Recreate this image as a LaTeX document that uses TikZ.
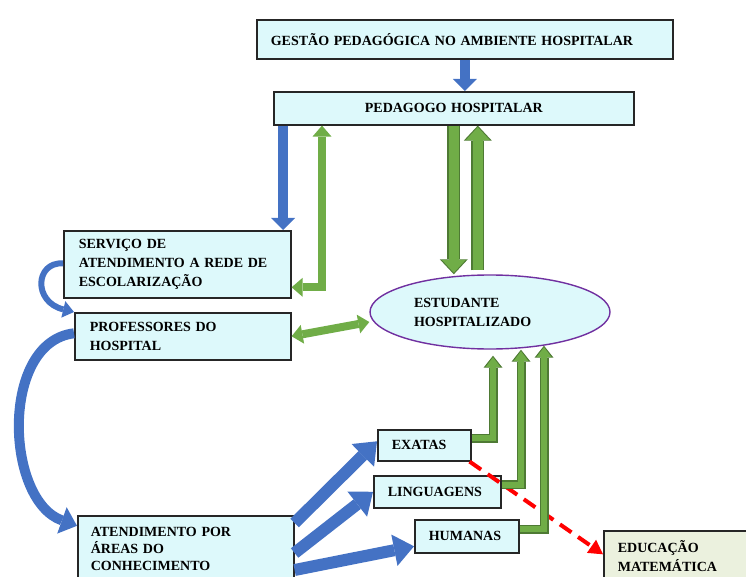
\documentclass[tikz,border=0pt]{standalone}
\usepackage{fontspec}
\setmainfont{Liberation Serif}
\usetikzlibrary{arrows.meta,shapes.geometric,calc}
\definecolor{boxcyan}{HTML}{DDF9FB}
\definecolor{edugreen}{HTML}{EBF1DE}
\definecolor{arrowblue}{HTML}{4472C4}
\definecolor{arrowgreen}{HTML}{70AD47}
\definecolor{greenline}{HTML}{4E7A34}
\definecolor{ellpurple}{HTML}{7030A0}
\tikzset{
  box/.style={draw=black!85,line width=1.6pt,fill=boxcyan,anchor=north west,align=left,
    inner xsep=14pt,inner ysep=2pt,font=\bfseries\fontsize{14}{19}\selectfont},
  bluearrow/.style={draw=arrowblue,line width=10pt,-{Triangle[width=24pt,length=12pt,line width=0pt]}},
  bluewide/.style={draw=arrowblue,line width=12pt,-{Triangle[width=32pt,length=20pt,line width=0pt]}},
  bluecurve/.style={draw=arrowblue,line width=6pt,-{Triangle[width=17pt,length=11pt,line width=0pt]}},
  bluebig/.style={draw=arrowblue,line width=10pt,-{Triangle[width=28pt,length=16pt,line width=0pt]}},
  greenarrow/.style={draw=arrowgreen,line width=8pt,
    {Triangle[width=19pt,length=11pt,line width=0pt]}-{Triangle[width=19pt,length=11pt,line width=0pt]}},
  greenfat/.style={draw=greenline,line width=13pt,-{Triangle[width=28pt,length=15pt,line width=0pt]},
    postaction={draw=arrowgreen,line width=10pt,-{Triangle[width=24pt,length=13pt,line width=0pt]},shorten >=1.5pt}},
  greenthin/.style={draw=greenline,line width=9pt,-{Triangle[width=19pt,length=12pt,line width=0pt]},
    postaction={draw=arrowgreen,line width=6pt,-{Triangle[width=15pt,length=10pt,line width=0pt]},shorten >=1.5pt}},
  reddash/.style={draw=red,line width=4pt,dash pattern=on 14pt off 8pt,-{Triangle[width=16pt,length=14pt,line width=0pt]}}
}
\begin{document}
\begin{tikzpicture}[x=1pt,y=-1pt]
\clip (0,0) rectangle (746,577);
% boxes
\node[box,minimum width=416pt,minimum height=39pt,text width=388pt] (gestao) at (256,19) {GESTÃO PEDAGÓGICA NO AMBIENTE HOSPITALAR};
\node[box,minimum width=360pt,minimum height=33pt,text width=332pt,align=center] (pedagogo) at (273,91) {PEDAGOGO HOSPITALAR};
\node[box,minimum width=227pt,minimum height=67pt,text width=197pt,inner xsep=15pt] (servico) at (63,230) {SERVIÇO DE\\ATENDIMENTO A REDE DE\\ESCOLARIZAÇÃO};
\node[box,minimum width=216pt,minimum height=47pt,text width=186pt,inner xsep=15pt] (professores) at (74,312) {PROFESSORES DO\\HOSPITAL};
\node[box,minimum width=216pt,minimum height=66pt,text width=190pt,inner xsep=13pt,font=\bfseries\fontsize{14}{17}\selectfont] (atendimento) at (77,515) {ATENDIMENTO POR\\ÁREAS DO\\CONHECIMENTO};
\node[box,minimum width=93pt,minimum height=31pt,text width=65pt] (exatas) at (377,429) {EXATAS};
\node[box,minimum width=127pt,minimum height=32pt,text width=99pt] (linguagens) at (373,475) {LINGUAGENS};
\node[box,minimum width=104pt,minimum height=33pt,text width=76pt,inner xsep=14pt] (humanas) at (414,519) {HUMANAS};
\node[box,fill=edugreen,minimum width=150pt,minimum height=51pt,text width=122pt] (educacao) at (603,530) {EDUCAÇÃO\\MATEMÁTICA};
\node[ellipse,draw=ellpurple,line width=1.4pt,fill=boxcyan,minimum width=240pt,minimum height=74pt,
  text width=152pt,align=left,font=\bfseries\fontsize{14}{19}\selectfont] (estudante) at (490,312) {ESTUDANTE\\HOSPITALIZADO};
% top arrows
\coordinate (p1) at ([xshift=10pt]pedagogo.south west);
\coordinate (p2) at ([xshift=49pt]pedagogo.south west);
\coordinate (p3) at ([xshift=24pt]pedagogo.south);
\coordinate (s1) at ([yshift=-23pt]servico.east);
\draw[bluearrow] (gestao.south) -- (gestao.south |- pedagogo.north);
\draw[bluearrow] (p1) -- (p1 |- servico.north);
\draw[greenarrow] (s1) -| (p2);
\draw[greenfat] (pedagogo.south) -- (pedagogo.south |- estudante.north);
\draw[greenfat] ([yshift=4pt]p3 |- estudante.north) -- (p3);
\draw[greenarrow] (professores.east) -- ([yshift=-10pt]estudante.west);
% left curves
\draw[bluecurve] ([yshift=1pt]servico.west) .. controls (35,262) and (33,302) .. (professores.north west);
\draw[bluebig] ([yshift=3pt]professores.west) .. controls (0,342) and (5,500) .. ([yshift=23pt]atendimento.west);
% areas
\draw[bluewide] ([yshift=-8pt]atendimento.north east) -- ([yshift=4pt]exatas.west);
\draw[bluewide] ([yshift=-38pt]atendimento.north east) -- (linguagens.west);
\draw[bluewide] ([yshift=-55pt]atendimento.north east) -- ([yshift=-10pt]humanas.west);
\draw[reddash] ([xshift=-2pt]exatas.south east) -- ([yshift=2pt]educacao.west);
\coordinate (e1) at ([xshift=3pt,yshift=-6pt]estudante.south);
\coordinate (e2) at ([xshift=31pt]estudante.south);
\coordinate (e3) at ([xshift=54pt,yshift=4pt]estudante.south);
\draw[greenthin] ([yshift=7pt]exatas.east) -| (e1);
\draw[greenthin] ([yshift=7pt]linguagens.east) -| (e2);
\draw[greenthin] ([yshift=7pt]humanas.east) -| (e3);
\end{tikzpicture}
\end{document}
